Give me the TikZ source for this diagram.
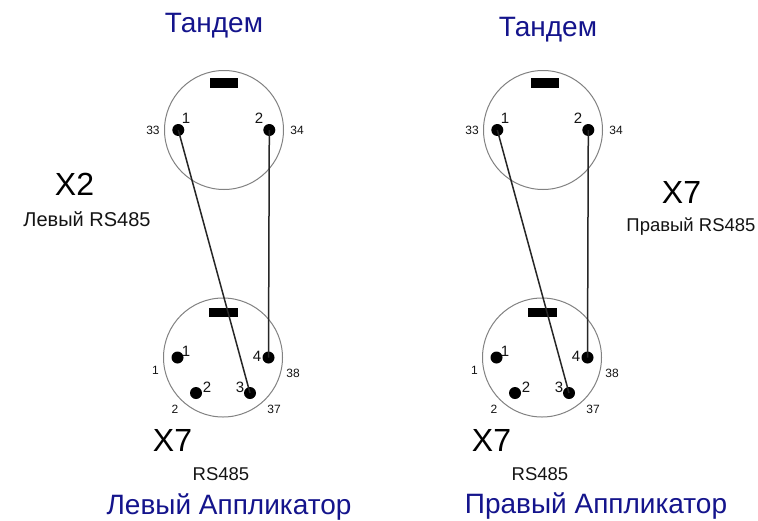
\documentclass[tikz,border=0pt]{standalone}
\usepackage{fontspec}
\setmainfont{Liberation Sans}
\definecolor{titleblue}{RGB}{20,20,140}
\definecolor{ringgray}{RGB}{130,130,130}
\definecolor{txt}{RGB}{20,20,20}
\newcommand{\fs}[1]{\fontsize{#1}{#1}\selectfont}
\tikzset{
  ring/.style={circle,draw=ringgray,line width=1pt,minimum size=119pt,inner sep=0pt},
  key/.style={rectangle,fill=black,inner sep=0pt},
  pin/.style={circle,fill=black,minimum size=12pt,inner sep=0pt},
  wire/.style={draw=black!85,line width=1.5pt},
  title/.style={text=titleblue,font=\fs{28},inner sep=0pt},
  big/.style={text=black,font=\fs{32},inner sep=0pt},
  sub/.style={text=txt,font=\fs{18.5},inner sep=0pt},
  subwide/.style={text=txt,font=\fs{20},inner sep=0pt},
  pinno/.style={text=txt,font=\fs{15},inner sep=0pt},
  tiny/.style={text=txt,font=\fs{12},inner sep=0pt}
}
\newcommand{\topconn}[3]{% prefix, center x, key x
  \node[ring] (#1c) at (#2,130) {};
  \node[key,minimum width=28pt,minimum height=10pt] (#1k) at (#3,83) {};
  \node[pin] (#1p1) at (#2-45.7,130) {};
  \node[pin] (#1p2) at (#2+45.3,130) {};
  \node[pinno] (#1n1) at (#2-38,118) {1};
  \node[pinno] (#1n2) at (#2+35,118) {2};
  \node[tiny] (#1e1) at (#2-71,130) {33};
  \node[tiny] (#1e2) at (#2+73,130) {34};
}
\newcommand{\botconn}[2]{% prefix, center x
  \node[ring] (#1c) at (#2,357.5) {};
  \node[key,minimum width=29pt,minimum height=9pt] (#1k) at (#2,312) {};
  \node[pin] (#1p1) at (#2-45.5,357.5) {};
  \node[pin] (#1p2) at (#2-27,393) {};
  \node[pin] (#1p3) at (#2+27,393) {};
  \node[pin] (#1p4) at (#2+45.5,357.5) {};
  \node[pinno] (#1n1) at (#2-37,351.5) {1};
  \node[pinno] (#1n2) at (#2-16,387) {2};
  \node[pinno] (#1n3) at (#2+17,387) {3};
  \node[pinno] (#1n4) at (#2+34,356.5) {4};
  \node[tiny] (#1e1) at (#2-67.5,370) {1};
  \node[tiny] (#1e2) at (#2-48,409) {2};
  \node[tiny] (#1e3) at (#2+51,409) {37};
  \node[tiny] (#1e4) at (#2+70,373) {38};
}
\begin{document}
\begin{tikzpicture}[x=1pt,y=-1pt]
\useasboundingbox (0,0) rectangle (758,520);
\fill[white] (0,0) rectangle (758,520);
\topconn{a}{224}{224}
\botconn{b}{223}
\topconn{c}{543}{545}
\botconn{d}{542}
\draw[wire] (ap1.center) -- (bp3.center);
\draw[wire] (ap2.center) -- (bp4.center);
\draw[wire] (cp1.center) -- (dp3.center);
\draw[wire] (cp2.center) -- (dp4.center);
\node[title] (t1) at (214,26) {Тандем};
\node[title] (t2) at (548,30) {Тандем};
\node[big] (x2) at (74.5,184) {X2};
\node[subwide] (l2) at (87,219) {Левый RS485};
\node[big] (x7r) at (681.5,192) {X7};
\node[sub] (r7) at (691,226.5) {Правый RS485};
\node[big] (x7a) at (172.5,440) {X7};
\node[sub] (rs1) at (221,474.5) {RS485};
\node[big] (x7b) at (491.5,440) {X7};
\node[sub] (rs2) at (540,474.5) {RS485};
\node[title] (t3) at (229,507.5) {Левый Аппликатор};
\node[title] (t4) at (596,506.5) {Правый Аппликатор};
\end{tikzpicture}
\end{document}
